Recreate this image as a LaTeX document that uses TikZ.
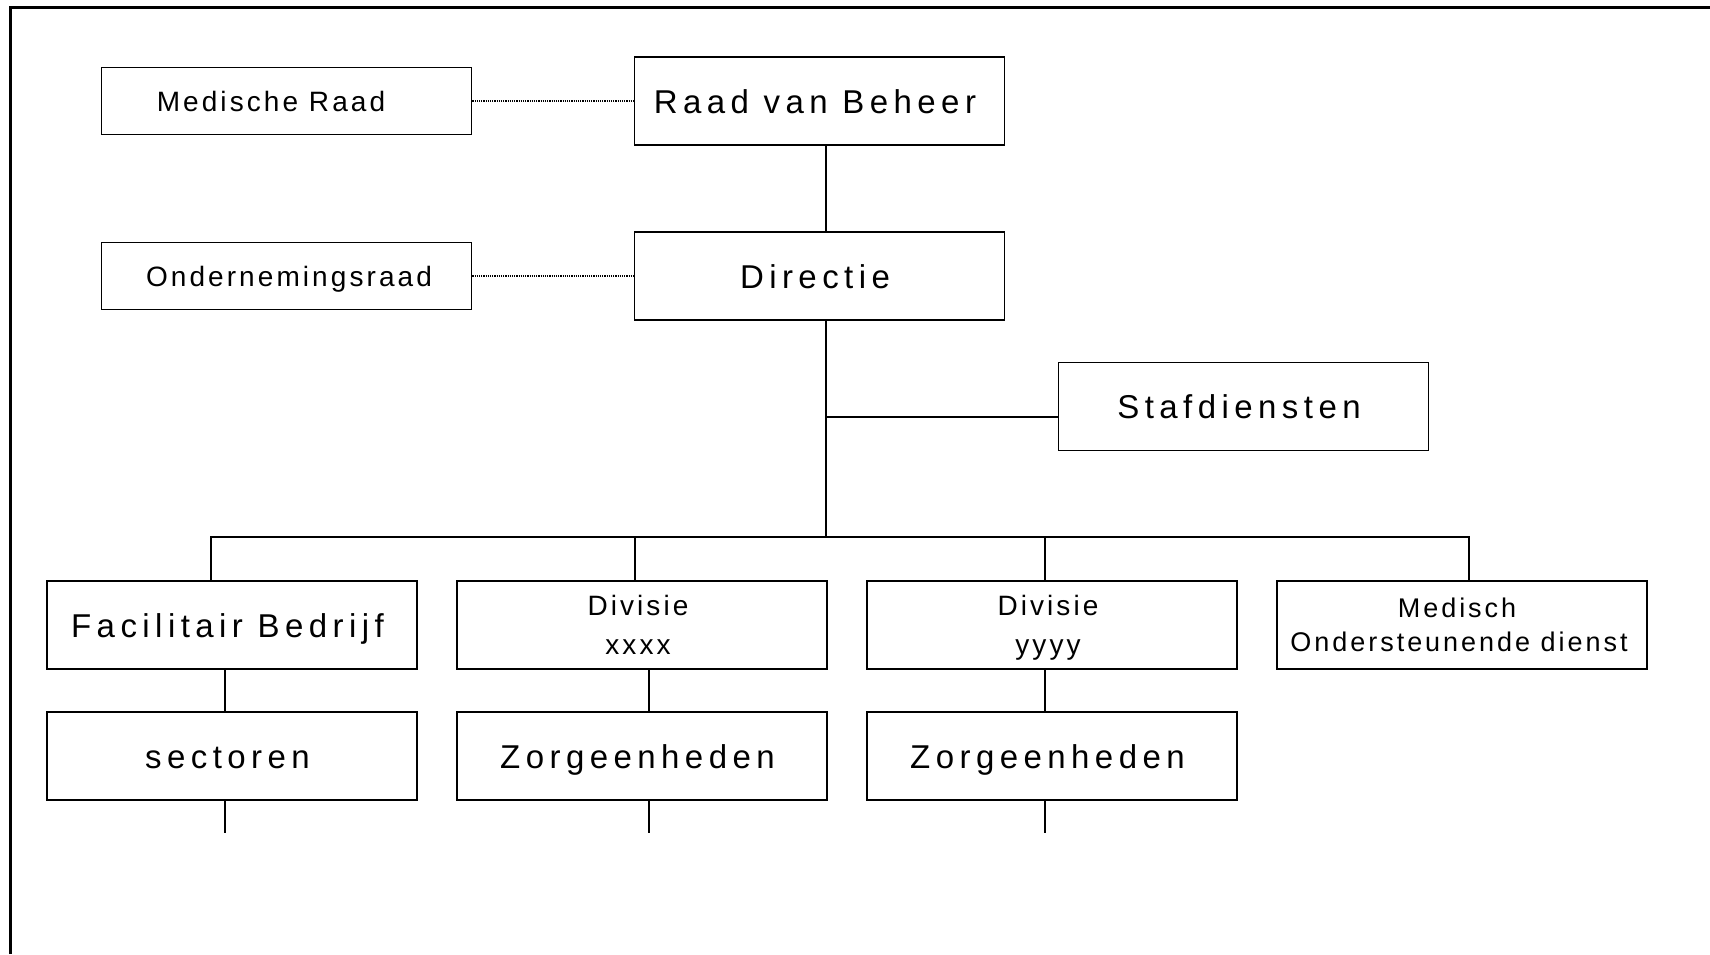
\documentclass[tikz,border=0pt]{standalone}
\usepackage{fontspec}
\setmainfont{Liberation Sans}
\newfontfamily\bigfont{Liberation Sans}[LetterSpace=16.5]
\newfontfamily\smallfont{Liberation Sans}[LetterSpace=11]
\usetikzlibrary{positioning,calc}

\begin{document}
\begin{tikzpicture}[x=1pt, y=-1pt, line width=1.2pt, node distance=410pt]
	\tikzstyle{orgbox}=[draw,line width=1.6pt,fill=white,minimum width=370pt,minimum height=88pt,inner sep=0pt,text height=24pt,text depth=0pt,font=\bigfont\fontsize{33}{40}\selectfont,execute at end node={\hspace{9pt}}]
	\tikzstyle{sidebox}=[orgbox,minimum height=67pt,text height=20pt,font=\smallfont\fontsize{28}{39}\selectfont]
	\tikzstyle{twoline}=[draw,line width=1.6pt,fill=white,minimum width=370pt,minimum height=88pt,inner sep=0pt,align=center,font=\smallfont\fontsize{28}{39}\selectfont]
	\tikzstyle{dotline}=[densely dotted,line width=1.2pt]
	\useasboundingbox (0,0) rectangle (1710,954);
	\draw[line width=3pt] (10.5,954) -- (10.5,7.5) -- (1710,7.5);

	% top of the chart
	\node[orgbox]  (rvb)                                  at (819.5,101) {Raad van Beheer};
	\node[orgbox]  (dir)  [below of=rvb, node distance=175pt]            {Directie};
	\node[sidebox,execute at end node={\hspace{22pt}}] (mr) [left of=rvb, node distance=533pt] {Medische Raad};
	\node[sidebox,execute at begin node={\hspace{14pt}}] (or) [left of=dir, node distance=533pt] {Ondernemingsraad};
	\node[orgbox]  (staf)                                 at (1243.5,406.5) {Stafdiensten};

	% divisions
	\node[orgbox]  (fb)                                   at (232,625) {Facilitair Bedrijf};
	\node[twoline] (dx)   [right of=fb]                                  {Divisie\hspace*{8pt}\\xxxx\hspace*{8pt}};
	\node[twoline] (dy)   [right of=dx]                                  {Divisie\hspace*{8pt}\\\smash{yyyy}\hspace*{8pt}};
	\node[twoline,font=\smallfont\fontsize{27}{34.5}\selectfont] (mod) [right of=dy] {Medisch\hspace*{10pt}\\Ondersteunende dienst\hspace*{6pt}};
	\node[orgbox]  (sec)  [below of=fb, node distance=131pt]             {sectoren};
	\node[orgbox]  (zx)   [below of=dx, node distance=131pt]             {Zorgeenheden};
	\node[orgbox]  (zy)   [below of=dy, node distance=131pt]             {Zorgeenheden};

	\coordinate (bus) at (826,537);
	\draw[dotline] (mr.east) -- (rvb.west);
	\draw[dotline] (or.east) -- (dir.west);
	\draw ($(rvb.south)+(6.5,0)$) -- ($(dir.north)+(6.5,0)$);
	\draw ($(dir.south)+(6.5,0)$) -- (bus);
	\draw ($(staf.west)+(0,10.5)$) -| (bus);
	\draw ($(fb.north)+(-21,0)$) |- (bus) -| ($(mod.north)+(7,0)$);
	\draw ($(dx.north)+(-7,0)$) -- ++(0,-44);
	\draw ($(dy.north)+(-7,0)$) -- ++(0,-44);
	\draw ($(fb.south)+(-7,0)$) -- ($(sec.north)+(-7,0)$);
	\draw ($(dx.south)+(7,0)$) -- ($(zx.north)+(7,0)$);
	\draw ($(dy.south)+(-7,0)$) -- ($(zy.north)+(-7,0)$);
	\draw ($(sec.south)+(-7,0)$) -- ++(0,32);
	\draw ($(zx.south)+(7,0)$) -- ++(0,32);
	\draw ($(zy.south)+(-7,0)$) -- ++(0,32);
\end{tikzpicture}
\end{document}
